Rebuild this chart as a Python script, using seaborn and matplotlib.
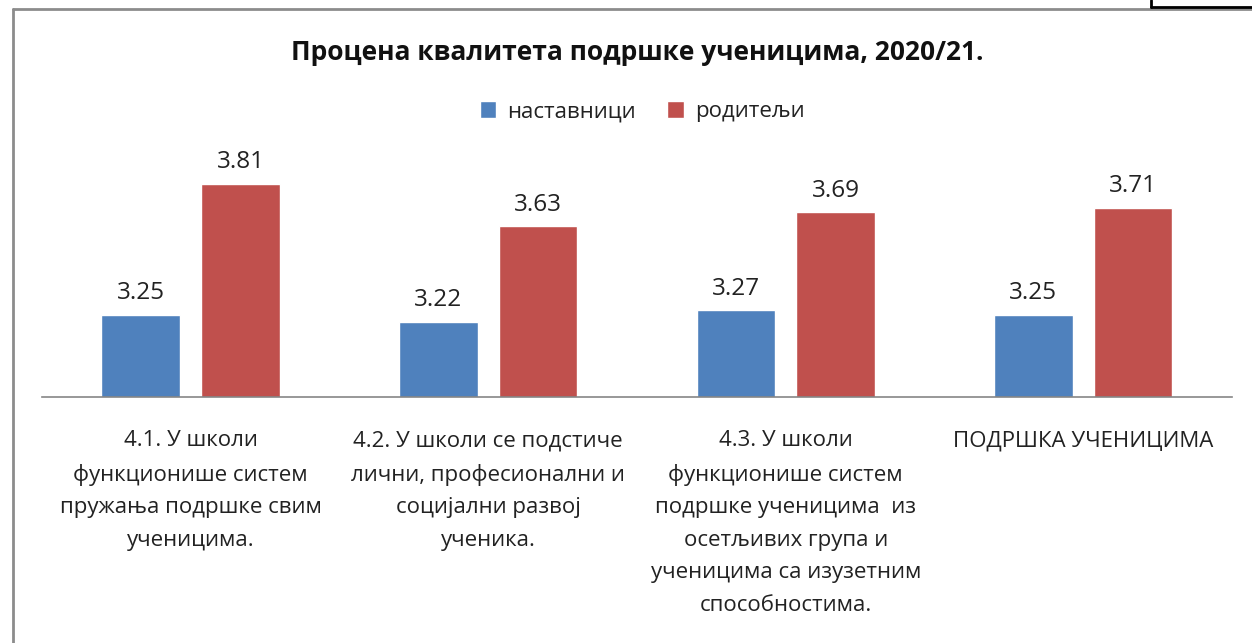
import numpy as np
import pandas as pd
import matplotlib
matplotlib.use("Agg")
import matplotlib.pyplot as plt
from matplotlib.lines import Line2D
import seaborn as sns

# data
categories = [
    "4.1. У школи\nфункционише систем\nпружања подршке свим\nученицима.",
    "4.2. У школи се подстиче\nлични, професионални и\nсоцијални развој\nученика.",
    "4.3. У школи\nфункционише систем\nподршке ученицима  из\nосетљивих група и\nученицима са изузетним\nспособностима.",
    "ПОДРШКА УЧЕНИЦИМА",
]
teachers = [3.25, 3.22, 3.27, 3.25]
parents = [3.81, 3.63, 3.69, 3.71]
series_names = ["наставници", "родитељи"]
colors = ["#4F81BD", "#C0504D"]

df = pd.DataFrame({
    "category": categories * 2,
    "value": teachers + parents,
    "series": [series_names[0]] * 4 + [series_names[1]] * 4,
})

sns.set_theme(style="white")
plt.rcParams["font.family"] = ["Open Sans", "DejaVu Sans"]

fig = plt.figure(figsize=(12.52, 6.43), dpi=100)
ax = fig.add_axes([0.0335, 0.3826, 0.9505, 0.40])

sns.barplot(data=df, x="category", y="value", hue="series", palette=colors,
            width=0.67, gap=0.21, ax=ax, legend=True, saturation=1)

ax.set_ylim(2.9, 4.0)
ax.set_xlim(-0.5, 3.5)
for c in ax.containers:
    ax.bar_label(c, fmt="%.2f", padding=7, fontsize=17.5, color="#222222")

ax.set_xlabel("")
ax.set_ylabel("")
ax.set_yticks([])
ax.tick_params(axis="x", length=0, pad=24, labelsize=16, colors="#222222")
for lbl in ax.get_xticklabels():
    lbl.set_linespacing(1.72)
    lbl.set_verticalalignment("top")
for s in ["top", "right", "left"]:
    ax.spines[s].set_visible(False)
ax.spines["bottom"].set_color("#868686")
ax.spines["bottom"].set_linewidth(1.2)

leg = ax.legend(loc="center", bbox_to_anchor=(0.513, 0.826), bbox_transform=fig.transFigure,
                ncol=2, frameon=False, fontsize=16, handlelength=0.75, handleheight=0.75,
                columnspacing=1.4, handletextpad=0.5)
for t in leg.get_texts():
    t.set_color("#222222")

fig.text(0.509, 0.919, "Процена квалитета подршке ученицима, 2020/21.",
         ha="center", va="center", fontsize=19, fontweight="bold", color="#111111")

# chart frame (gray) and the clipped box at top right
H = 643.0
W = 1252.0
fig.add_artist(Line2D([13 / W, 13 / W], [0, 1 - 9 / H], color="#8c8c8c", lw=2))
fig.add_artist(Line2D([13 / W, 1], [1 - 9 / H, 1 - 9 / H], color="#8c8c8c", lw=2))
fig.add_artist(Line2D([1151 / W, 1151 / W], [1, 1 - 7 / H], color="black", lw=2))
fig.add_artist(Line2D([1151 / W, 1], [1 - 7 / H, 1 - 7 / H], color="black", lw=2))

fig.savefig("out.png", dpi=100)
